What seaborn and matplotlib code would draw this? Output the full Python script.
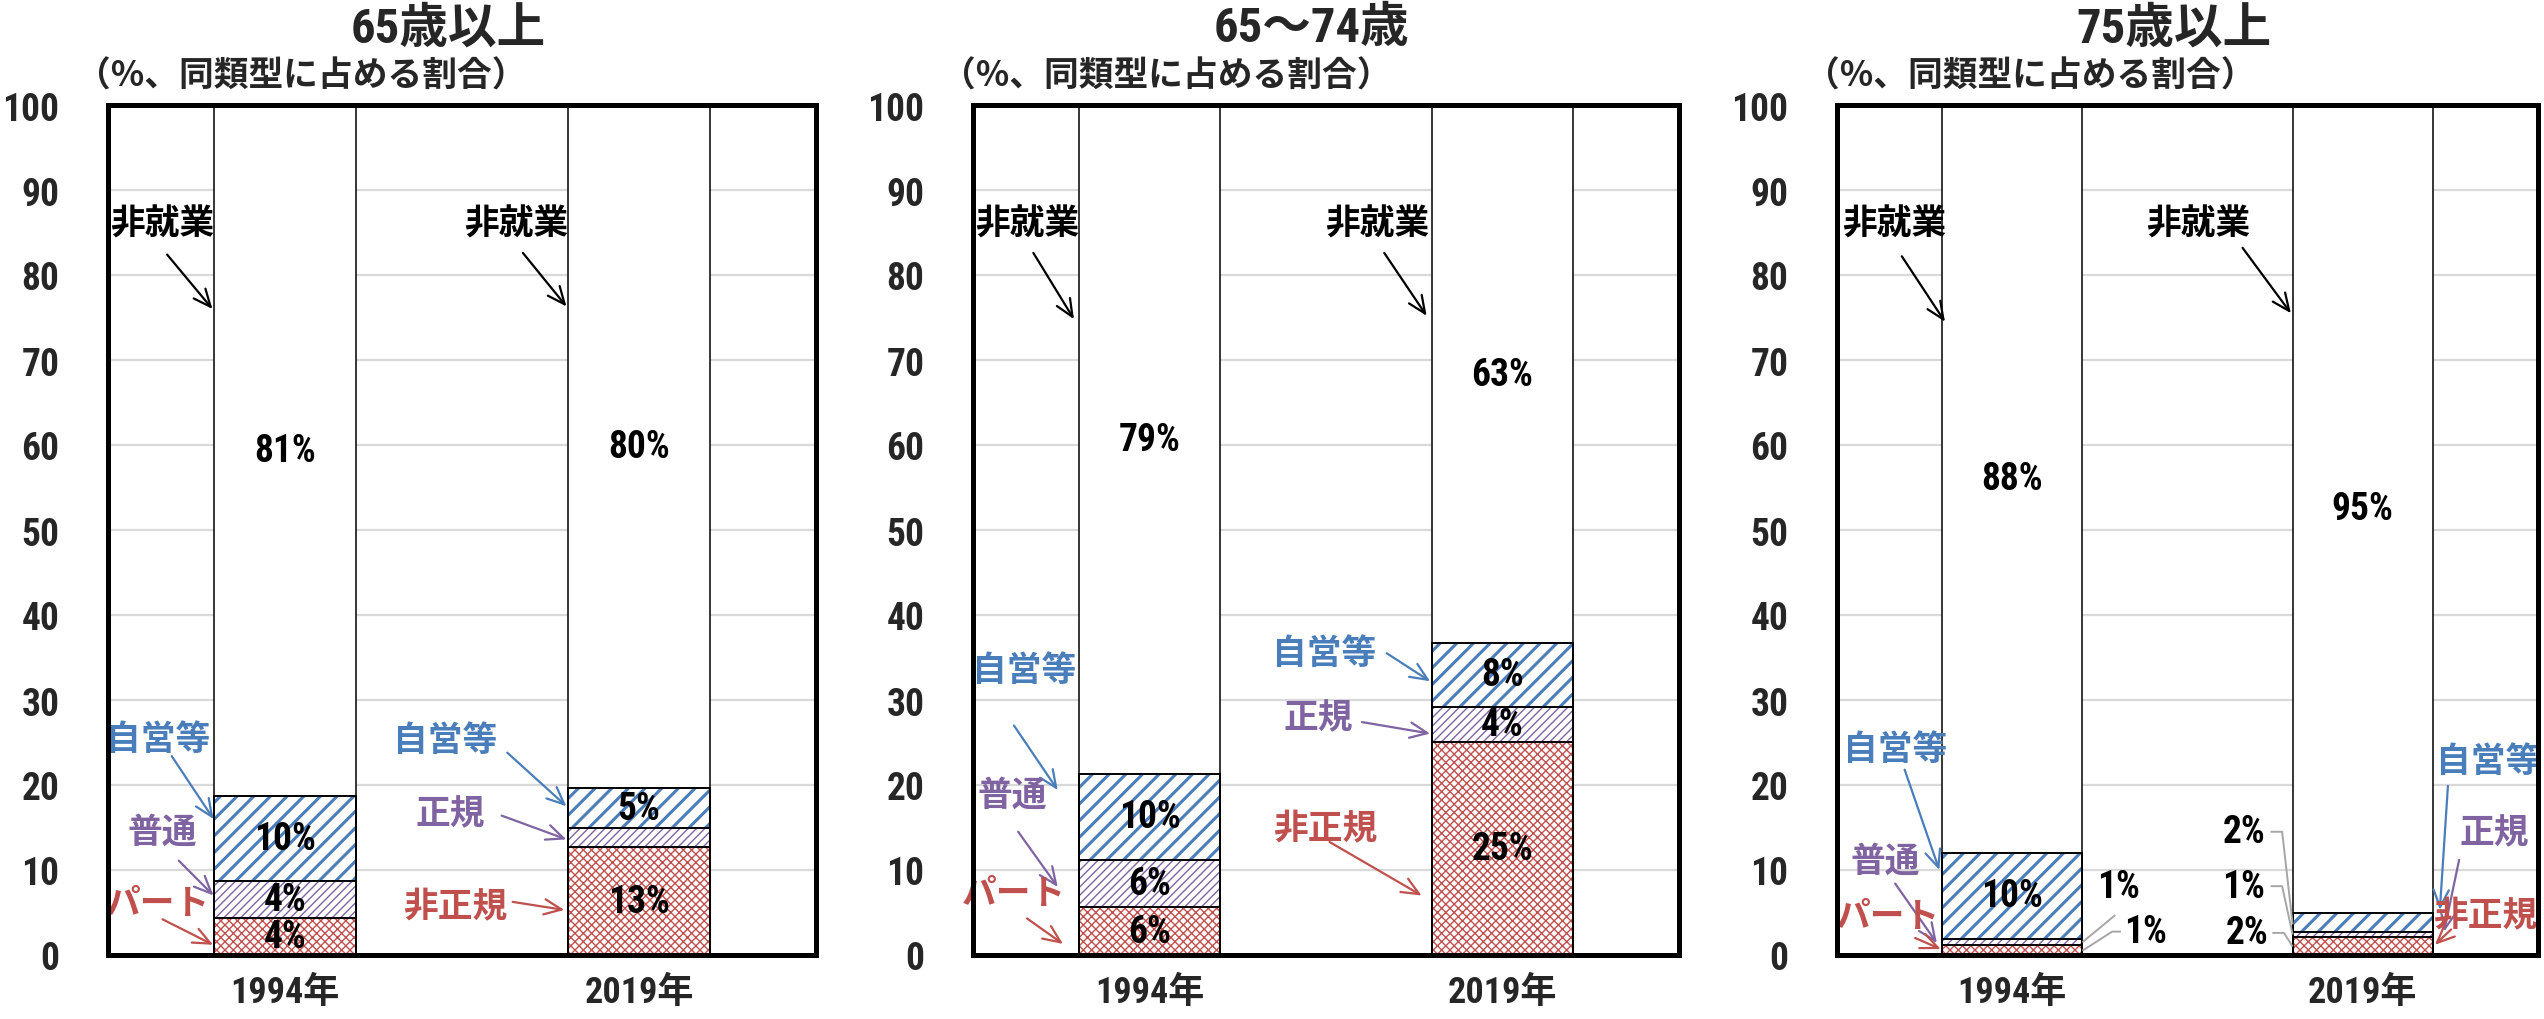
import matplotlib
matplotlib.use("Agg")
import matplotlib.pyplot as plt
import numpy as np
import pandas as pd
import seaborn as sns

# ---------------- data ----------------
years = ["1994年", "2019年"]
panel_titles = ["65歳以上", "65～74歳", "75歳以上"]
subtitle = "（%、同類型に占める割合）"
yticks = list(range(0, 101, 10))

# segments bottom -> top : パート/非正規, 普通/正規, 自営等, 非就業
p65_part = [4.3, 12.7]
p65_regular = [4.4, 2.2]
p65_self = [10.0, 4.7]
p65_nonwork = [81.3, 80.4]

p6574_part = [5.6, 25.1]
p6574_regular = [5.6, 4.1]
p6574_self = [10.1, 7.5]
p6574_nonwork = [78.7, 63.3]

p75_part = [1.2, 2.1]
p75_regular = [0.7, 0.6]
p75_self = [10.1, 2.3]
p75_nonwork = [88.0, 95.0]

panel_values = [
    [p65_part, p65_regular, p65_self, p65_nonwork],
    [p6574_part, p6574_regular, p6574_self, p6574_nonwork],
    [p75_part, p75_regular, p75_self, p75_nonwork],
]

# ---------------- style ----------------
BLUE = "#4A7EBB"
PURPLE = "#8064A2"
RED = "#C0504D"
BLACK = "black"
GRAY = "#A6A6A6"

sns.set_theme(style="white")
FAM = ["Roboto Condensed", "Noto Sans CJK JP", "DejaVu Sans"]
CJK = ["Noto Sans CJK JP", "DejaVu Sans"]
plt.rcParams["font.family"] = FAM
plt.rcParams["font.weight"] = "bold"
plt.rcParams["hatch.linewidth"] = 1.0

seg_hatch = ["xxxx", "////", "//", ""]
seg_hcolor = [RED, PURPLE, BLUE, "white"]
seg_hlw = [1.0, 1.0, 2.2, 1.0]

# annotation layout: (text, color, text_xy, arrow_start, arrow_tip)
annots = [
    [
        ("非就業", BLACK, (-0.347, 86), (-0.333, 82.4), (-0.205, 76)),
        ("非就業", BLACK, (0.653, 86), (0.672, 82.6), (0.795, 76.3)),
        ("自営等", BLUE, (-0.357, 25.3), (-0.32, 23.4), (-0.202, 16)),
        ("普通", PURPLE, (-0.346, 14.5), (-0.30, 11.1), (-0.202, 7.0)),
        ("パート", RED, (-0.358, 6.0), (-0.346, 4.2), (-0.203, 1.2)),
        ("自営等", BLUE, (0.453, 25.2), (0.628, 23.8), (0.795, 17.5)),
        ("正規", PURPLE, (0.466, 16.6), (0.612, 16.4), (0.795, 13.6)),
        ("非正規", RED, (0.481, 5.7), (0.643, 6.25), (0.789, 5.3)),
    ],
    [
        ("非就業", BLACK, (-0.347, 86), (-0.329, 82.6), (-0.214, 74.8)),
        ("非就業", BLACK, (0.646, 86), (0.665, 82.6), (0.785, 75.2)),
        ("自営等", BLUE, (-0.354, 33.5), (-0.384, 27.0), (-0.26, 19.4)),
        ("普通", PURPLE, (-0.388, 18.8), (-0.372, 14.5), (-0.26, 8.0)),
        ("パート", RED, (-0.385, 7.2), (-0.347, 4.3), (-0.245, 1.3)),
        ("自営等", BLUE, (0.494, 35.5), (0.672, 35.5), (0.795, 32.2)),
        ("正規", PURPLE, (0.479, 27.9), (0.602, 27.4), (0.795, 26.05)),
        ("非正規", RED, (0.497, 14.85), (0.51, 13.3), (0.771, 7.0)),
    ],
    [
        ("非就業", BLACK, (-0.337, 86), (-0.315, 82.2), (-0.192, 74.5)),
        ("非就業", BLACK, (0.53, 86), (0.657, 83.2), (0.795, 75.5)),
        ("自営等", BLUE, (-0.335, 24.2), (-0.307, 21.8), (-0.208, 10.0)),
        ("普通", PURPLE, (-0.361, 11.0), (-0.334, 8.4), (-0.215, 1.4)),
        ("パート", RED, (-0.354, 4.5), (-0.277, 2.0), (-0.204, 0.7)),
        ("自営等", BLUE, (1.357, 22.8), (1.243, 19.9), (1.22, 5.3)),
        ("正規", PURPLE, (1.374, 14.4), (1.275, 11.2), (1.232, 2.75)),
        ("非正規", RED, (1.35, 4.6), (1.252, 3.0), (1.206, 1.2)),
    ],
]

# external small-value labels for 75歳以上: (segment, year index, text_xy, leader points)
ext_labels = [
    (1, 0, (0.302, 8.1), [(0.294, 4.7), (0.2, 1.5)]),
    (0, 0, (0.379, 2.75), [(0.31, 2.75), (0.285, 2.75), (0.2, 0.5)]),
    (2, 1, (0.661, 14.5), [(0.737, 14.5), (0.77, 14.5), (0.8, 3.6)]),
    (1, 1, (0.661, 8.1), [(0.737, 8.1), (0.77, 8.1), (0.8, 2.4)]),
    (0, 1, (0.67, 2.6), [(0.742, 2.6), (0.775, 2.6), (0.8, 1.0)]),
]

# ---------------- figure ----------------
W, H = 2544, 1020
fig = plt.figure(figsize=(W / 100, H / 100), dpi=100)
lefts = [108, 973, 1837]
widths = [708, 706, 701]
top_px, bot_px = 106, 956

for p in range(3):
    ax = fig.add_axes([lefts[p] / W, 1 - bot_px / H, widths[p] / W, (bot_px - top_px) / H])
    vals = panel_values[p]
    cum = np.cumsum(np.array(vals), axis=0)

    # filled layers, tallest first so lower segments cover upper ones
    for k in range(3, -1, -1):
        df = pd.DataFrame({"year": years, "value": cum[k]})
        n0 = len(ax.patches)
        with plt.rc_context({"hatch.linewidth": seg_hlw[k]}):
            sns.barplot(data=df, x="year", y="value", order=years, ax=ax,
                        width=0.4, color="white", saturation=1, errorbar=None,
                        edgecolor=seg_hcolor[k], hatch=seg_hatch[k] or None,
                        linewidth=0, zorder=2)
        for patch in ax.patches[n0:]:
            if hasattr(patch, "set_hatch_linewidth"):
                patch.set_hatch_linewidth(seg_hlw[k])
    # black outlines on top
    for k in range(3, -1, -1):
        df = pd.DataFrame({"year": years, "value": cum[k]})
        sns.barplot(data=df, x="year", y="value", order=years, ax=ax,
                    width=0.4, color="white", saturation=1, errorbar=None,
                    facecolor="none", edgecolor="black",
                    linewidth=1.4 if k < 3 else 1.1, zorder=2.5)

    # in-bar percentage labels
    for k in range(4):
        for i in range(2):
            v = vals[k][i]
            if v >= 3:
                bottom = cum[k][i] - v
                ax.text(i, bottom + v / 2, f"{v:.0f}%", ha="center", va="center",
                        fontsize=27, fontweight="bold", color="black", zorder=4,
                        family=FAM)

    # category annotations with arrows
    for txt, col, txy, a0, a1 in annots[p]:
        ax.text(txy[0], txy[1], txt, color=col, ha="center", va="center",
                fontsize=25, fontweight="bold", zorder=5, clip_on=False,
                family=FAM)
        ax.annotate("", xy=a1, xytext=a0, annotation_clip=False,
                    arrowprops=dict(arrowstyle="->,head_length=0.5,head_width=0.22",
                                    color=col, lw=1.6, shrinkA=0, shrinkB=0,
                                    mutation_scale=25), zorder=5)

    if p == 2:
        for k, i, txy, pts in ext_labels:
            v = vals[k][i]
            ax.text(txy[0], txy[1], f"{v:.0f}%", ha="center", va="center",
                    fontsize=27, fontweight="bold", color="black", zorder=4,
                    family=FAM)
            xs, ys = zip(*pts)
            ax.plot(xs, ys, color=GRAY, lw=1.4, zorder=3, solid_capstyle="butt")

    # axes cosmetics
    ax.set_xlim(-0.5, 1.5)
    ax.set_ylim(0, 100)
    ax.set_yticks(yticks)
    ax.set_yticklabels([str(t) for t in yticks])
    ax.set_xlabel("")
    ax.set_ylabel("")
    ax.set_axisbelow(True)
    ax.yaxis.grid(True, color="#D9D9D9", lw=1.6)
    ax.xaxis.grid(False)
    for s in ax.spines.values():
        s.set_visible(True)
        s.set_color("black")
        s.set_linewidth(3.6)
        s.set_zorder(6)
    ax.tick_params(axis="y", length=0, pad=35, labelsize=27)
    ax.tick_params(axis="x", length=0, pad=14, labelsize=26)
    for lab in ax.get_xticklabels() + ax.get_yticklabels():
        lab.set_fontweight("bold")
        lab.set_family(FAM)

    ax.text(0.48, 1.09, panel_titles[p], transform=ax.transAxes, ha="center",
            va="center", fontsize=35, fontweight="bold", family=FAM)
    ax.text(-0.045, 1.035, subtitle, transform=ax.transAxes, ha="left",
            va="center", fontsize=25, fontweight="bold", family=CJK)

fig.savefig("out.png", dpi=100)
